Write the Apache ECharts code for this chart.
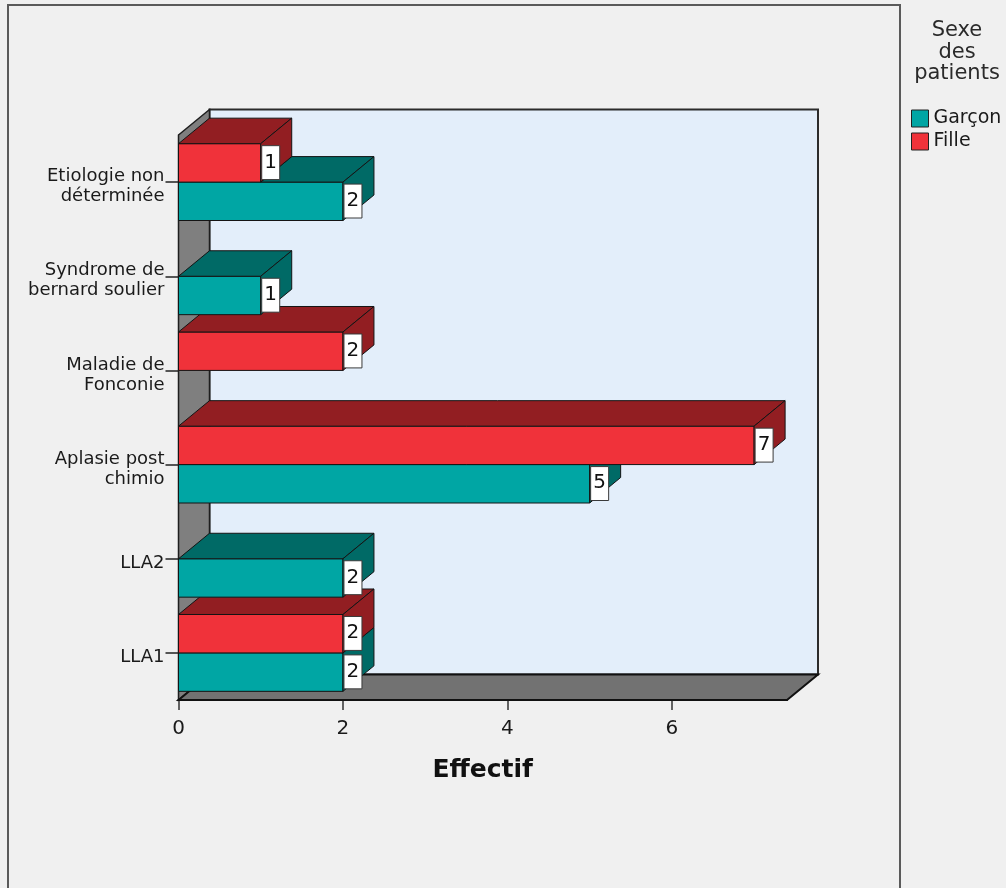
<!DOCTYPE html>
<html>
<head>
<meta charset="utf-8">
<script src="https://cdn.jsdelivr.net/npm/echarts@6/dist/echarts.min.js"></script>
<style>
  html, body { margin: 0; padding: 0; background: #F0F0F0; }
  #chart { width: 1006px; height: 888px; }
</style>
</head>
<body>
<div id="chart"></div>
<script>
// Diagnostic categories, top to bottom
const categories = [
  'Etiologie non\ndéterminée',
  'Syndrome de\nbernard soulier',
  'Maladie de\nFonconie',
  'Aplasie post\nchimio',
  'LLA2',
  'LLA1'
];
// Counts per sex
const garcon = [2, 1, 0, 5, 2, 2];
const fille  = [1, 0, 2, 7, 0, 2];
// Value axis ticks
const xTicks = [0, 2, 4, 6];

const FONT = "'DejaVu Sans', sans-serif";
const TEXT = '#1a1a1a';

// 3D depth offset of the bars and the walls
const DX = 31, DY = -25.5;
// share of a category band taken by one bar
const BAR_RATIO = 0.408;

const COLORS = {
  garcon: { front: '#00A6A4', dark: '#006A66' },
  fille:  { front: '#F0323A', dark: '#921E22' }
};

function makeBarRenderer(isFille) {
  const col = isFille ? COLORS.fille : COLORS.garcon;
  return function (params, api) {
    const val = api.value(0);
    const cat = api.value(1);
    const other = api.value(2);
    if (!val) return null;
    const base = api.coord([0, cat]);
    const end = api.coord([val, cat]);
    const band = api.size([0, 1])[1];
    const h = band * BAR_RATIO;
    const yTop = isFille ? base[1] - h : base[1];
    const yBot = yTop + h;
    const x0 = base[0], x1 = end[0];
    // lower categories are painted first
    const zBase = (categories.length - 1 - cat) * 10 + (isFille ? 5 : 1);
    const edge = { stroke: '#141414', lineWidth: 1 };
    const children = [];
    children.push({
      type: 'rect', z2: zBase,
      shape: { x: x0, y: yTop, width: x1 - x0, height: h },
      style: Object.assign({ fill: col.front }, edge)
    });
    // top face: for the lower bar only the part not covered by the bar above
    let xs = x0;
    let drawTop = true;
    if (!isFille) {
      if (other >= val) drawTop = false;
      else if (other > 0) xs = api.coord([other, cat])[0];
    }
    if (drawTop) {
      children.push({
        type: 'polygon', z2: zBase,
        shape: { points: [[xs, yTop], [x1, yTop], [x1 + DX, yTop + DY], [xs + DX, yTop + DY]] },
        style: Object.assign({ fill: col.dark }, edge)
      });
    }
    children.push({
      type: 'polygon', z2: zBase,
      shape: { points: [[x1, yTop], [x1 + DX, yTop + DY], [x1 + DX, yBot + DY], [x1, yBot]] },
      style: Object.assign({ fill: col.dark }, edge)
    });
    // value tag
    children.push({
      type: 'rect', z2: 1000,
      shape: { x: x1 + 1, y: yTop + 2, width: 18, height: h - 4.5 },
      style: { fill: '#ffffff', stroke: '#3a3a3a', lineWidth: 1 }
    });
    children.push({
      type: 'text', z2: 1001,
      style: {
        text: String(val), x: x1 + 10, y: yTop + h / 2 - 0.5,
        align: 'center', verticalAlign: 'middle',
        font: '20px ' + FONT, fill: '#111'
      }
    });
    return { type: 'group', children: children };
  };
}

function renderFrame(params) {
  const cs = params.coordSys;
  const x0 = cs.x, x1 = cs.x + cs.width, yT = cs.y, yB = cs.y + cs.height;
  return {
    type: 'group',
    children: [
      { type: 'rect', z2: -30,
        shape: { x: x0 + DX, y: yT + DY, width: cs.width, height: cs.height },
        style: { fill: '#E3EEFA', stroke: '#2b2b2b', lineWidth: 2 } },
      { type: 'polygon', z2: -29,
        shape: { points: [[x0, yT], [x0 + DX, yT + DY], [x0 + DX, yB + DY], [x0, yB]] },
        style: { fill: '#7F7F7F', stroke: '#1e1e1e', lineWidth: 1.5 } },
      { type: 'polygon', z2: -28,
        shape: { points: [[x0, yB], [x1, yB], [x1 + DX, yB + DY], [x0 + DX, yB + DY]] },
        style: { fill: '#727272', stroke: '#111', lineWidth: 2 } }
    ]
  };
}

// category label: a thin spacer line on top nudges the text block below the tick
function categoryLabel(value) {
  return '{s| }\n' + value.split('\n').map(line => '{a|' + line + '}').join('\n');
}

const chart = echarts.init(document.getElementById('chart'), null, { renderer: 'canvas' });

chart.setOption({
  backgroundColor: '#F0F0F0',
  animation: false,
  grid: { left: 178.5, top: 135, width: 608.5, height: 565 },
  xAxis: {
    type: 'value', min: 0, max: 7.4, interval: 2,
    name: 'Effectif', nameLocation: 'middle', nameGap: 58,
    nameTextStyle: { fontFamily: FONT, fontSize: 25, fontWeight: 'bold', color: '#111' },
    axisLine: { show: true, lineStyle: { color: '#111', width: 2 } },
    axisTick: { show: true, length: 10, customValues: xTicks, lineStyle: { color: '#333', width: 1.5 } },
    axisLabel: { customValues: xTicks, margin: 19, fontFamily: FONT, fontSize: 20, color: TEXT },
    splitLine: { show: false }
  },
  yAxis: {
    type: 'category', data: categories, inverse: true,
    axisLine: { show: true, lineStyle: { color: '#111', width: 1.5 } },
    axisTick: { show: true, alignWithLabel: true, length: 13, lineStyle: { color: '#222', width: 1.5 } },
    axisLabel: {
      margin: 14, color: TEXT,
      formatter: categoryLabel,
      rich: {
        s: { fontSize: 1, lineHeight: 9, height: 9 },
        a: { fontFamily: FONT, fontSize: 18, lineHeight: 20, color: TEXT }
      }
    },
    splitLine: { show: false }
  },
  legend: {
    data: ['Garçon', 'Fille'],
    orient: 'vertical', left: 911, top: 109, padding: 0,
    itemWidth: 17, itemHeight: 17, itemGap: 4, icon: 'rect',
    textStyle: { fontFamily: FONT, fontSize: 19, color: TEXT },
    itemStyle: { borderColor: '#222', borderWidth: 1 }
  },
  graphic: [
    { type: 'rect', shape: { x: 8, y: 5, width: 892, height: 900 },
      style: { fill: 'none', stroke: '#5a5a5a', lineWidth: 2 }, silent: true },
    { type: 'text', x: 957, y: 20,
      style: { text: 'Sexe\ndes\npatients', align: 'center', verticalAlign: 'top',
               font: '21px ' + FONT, lineHeight: 21.5, fill: '#2a2a2a' } }
  ],
  series: [
    {
      name: 'frame', type: 'custom', renderItem: renderFrame,
      data: [[0, 0]], silent: true
    },
    {
      name: 'Garçon', type: 'custom', renderItem: makeBarRenderer(false),
      itemStyle: { color: COLORS.garcon.front },
      encode: { x: 0, y: 1 },
      data: categories.map((c, i) => [garcon[i], i, fille[i]])
    },
    {
      name: 'Fille', type: 'custom', renderItem: makeBarRenderer(true),
      itemStyle: { color: COLORS.fille.front },
      encode: { x: 0, y: 1 },
      data: categories.map((c, i) => [fille[i], i, garcon[i]])
    }
  ]
});
</script>
</body>
</html>
